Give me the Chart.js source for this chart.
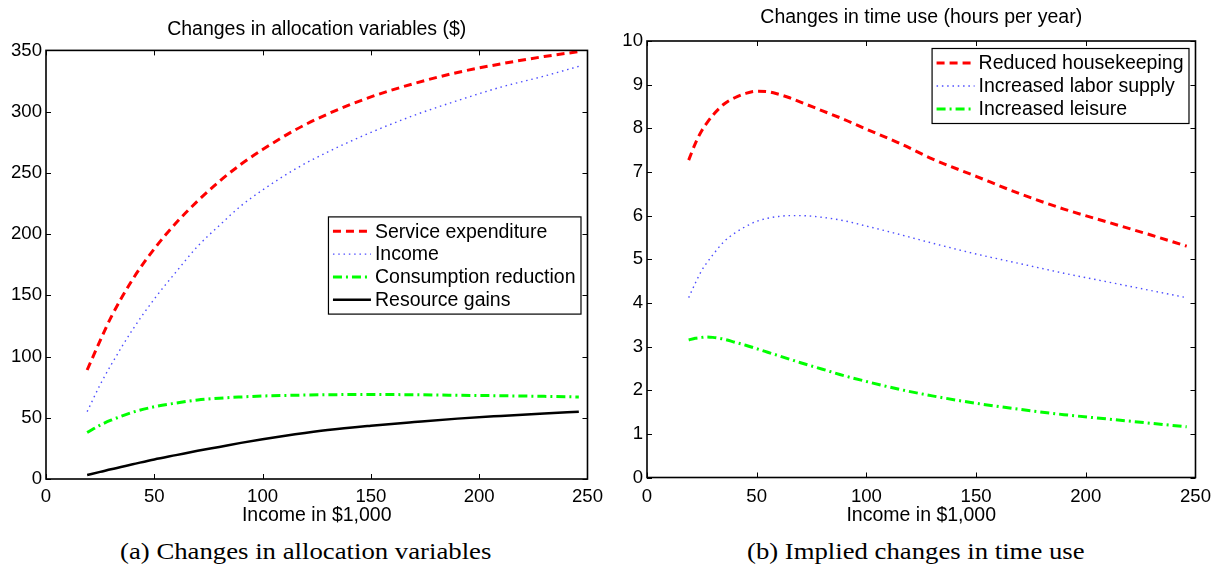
<!DOCTYPE html>
<html><head><meta charset="utf-8">
<script src="https://cdn.jsdelivr.net/npm/chart.js@4/dist/chart.umd.min.js"></script>
<style>
html,body{margin:0;padding:0;background:#fff;width:1219px;height:565px;overflow:hidden;}
.wrap{position:absolute;top:0;height:530px;}
#wa{left:0;width:610px;}
#wb{left:610px;width:609px;}
.cap{position:absolute;top:540px;font-family:'Liberation Serif','Times New Roman',serif;font-size:23px;line-height:23px;white-space:nowrap;color:#000;transform-origin:0 0;}
</style></head>
<body>
<div class="wrap" id="wa"><canvas id="ca"></canvas></div>
<div class="wrap" id="wb"><canvas id="cb"></canvas></div>
<div class="cap" id="capa" data-left="120" data-w="371">(a) Changes in allocation variables</div>
<div class="cap" id="capb" data-left="747" data-w="338">(b) Implied changes in time use</div>
<script>
// ---------- data (left panel) ----------
const incomeA = [19,25,30,40,50,60,70,80,90,100,115,130,150,170,190,210,230,246];
const serviceExpenditure = [89,113,132,163,188,209,227,243,257,269,285,298,312,323,332,339,345,349];
const incomeChange      = [55,77,93,122,147,169,190,207,223,236,253,267,283,297,309,320,329,337];
const consumptionReduction = [38,44,48,54.5,59,62,64.5,66,67,67.8,68.4,68.8,69,68.8,68.4,68,67.5,67];
const resourceGains     = [3.3,5.8,8,12,16,19.5,23,26.2,29.5,32.5,36.5,40,43.5,46.5,49.3,51.5,53.5,55];
const yTicksA = [0,50,100,150,200,250,300,350];

// ---------- data (right panel) ----------
const incomeB = [19,22,25,27,30,35,40,45,50,55,60,65,70,80,90,100,115,130,150,170,190,210,230,246];
const reducedHousekeeping = [7.27,7.65,7.95,8.1,8.3,8.55,8.7,8.8,8.85,8.84,8.78,8.7,8.6,8.4,8.2,7.98,7.66,7.3,6.9,6.5,6.15,5.85,5.55,5.3];
const increasedLabor      = [4.12,4.45,4.75,4.9,5.1,5.4,5.6,5.75,5.87,5.94,5.98,6.0,6.0,5.96,5.88,5.76,5.57,5.37,5.12,4.9,4.68,4.48,4.28,4.12];
const increasedLeisure    = [3.15,3.19,3.21,3.22,3.21,3.17,3.1,3.03,2.95,2.87,2.79,2.71,2.63,2.48,2.33,2.2,2.02,1.87,1.7,1.56,1.44,1.34,1.24,1.16];
const yTicksB = [0,1,2,3,4,5,6,7,8,9,10];
const xTicks = [0,50,100,150,200,250];

const FONT = "'Liberation Sans', Arial, Helvetica, sans-serif";
Chart.defaults.font.family = FONT;
Chart.defaults.color = '#000';

const pts = (xs, ys) => xs.map((x,i)=>({x, y: ys[i]}));

const STY = {
  red:   {borderColor:'#ff0000', borderWidth:3,   borderDash:[8,5]},
  blue:  {borderColor:'#4d4dff', borderWidth:1.4, borderDash:[1.5,3.8]},
  green: {borderColor:'#00ff00', borderWidth:3,   borderDash:[9,4,2,4]},
  black: {borderColor:'#000000', borderWidth:2.5, borderDash:[]}
};
function ds(label, xs, ys, s){
  return Object.assign({label, data: pts(xs,ys), pointRadius:0, fill:false,
    cubicInterpolationMode:'monotone', borderCapStyle:'butt'}, s);
}

const frameTicks = {
  id:'frameTicks',
  afterDatasetsDraw(chart){
    const {ctx, chartArea:a, scales:{x,y}} = chart;
    ctx.save();
    ctx.setLineDash([]);
    ctx.strokeStyle='#000'; ctx.lineWidth=1;
    ctx.beginPath();
    x.ticks.forEach(t=>{const p=Math.round(x.getPixelForValue(t.value))+0.5;
      ctx.moveTo(p,a.bottom); ctx.lineTo(p,a.bottom-5); ctx.moveTo(p,a.top); ctx.lineTo(p,a.top+5);});
    y.ticks.forEach(t=>{const p=Math.round(y.getPixelForValue(t.value))+0.5;
      ctx.moveTo(a.left,p); ctx.lineTo(a.left+5,p); ctx.moveTo(a.right,p); ctx.lineTo(a.right-5,p);});
    ctx.stroke();
    ctx.lineWidth=1.6;
    ctx.strokeRect(a.left,a.top,a.right-a.left,a.bottom-a.top);
    ctx.restore();
  }
};

const innerLegend = {
  id:'innerLegend',
  afterDraw(chart, args, opts){
    const {ctx, chartArea:a} = chart;
    const dsets = chart.data.datasets;
    ctx.save();
    ctx.font = opts.fontSize + 'px ' + FONT;
    const tw = Math.max(...dsets.map(d=>ctx.measureText(d.label).width));
    const rowH = opts.rowH, w = 47 + tw + 5, h = dsets.length*rowH + 6;
    const L = a.right - opts.right - w, T = a.top + opts.top;
    ctx.fillStyle='#fff'; ctx.fillRect(L,T,w,h);
    ctx.setLineDash([]); ctx.strokeStyle='#000'; ctx.lineWidth=1.2;
    ctx.strokeRect(L+0.5,T+0.5,w,h);
    ctx.textBaseline='middle'; ctx.textAlign='left';
    dsets.forEach((d,i)=>{
      const cy = T + 3.5 + rowH*(i+0.5);
      ctx.beginPath(); ctx.setLineDash(d.borderDash||[]);
      ctx.strokeStyle=d.borderColor; ctx.lineWidth=d.borderWidth; ctx.lineCap='butt';
      ctx.moveTo(L+5,cy); ctx.lineTo(L+43,cy); ctx.stroke();
      ctx.setLineDash([]); ctx.fillStyle='#000';
      ctx.fillText(d.label, L+47, cy+1);
    });
    ctx.restore();
  }
};

function makeChart(id, datasets, yMax, yStep, title, titlePad, xH, yW, padRight, xPad, legendPos){
  return new Chart(document.getElementById(id), {
    type:'line',
    data:{datasets},
    plugins:[frameTicks, innerLegend],
    options:{
      responsive:true, maintainAspectRatio:false, animation:false,
      layout:{padding:{left:0,right:padRight,top:0,bottom:0}},
      plugins:{
        legend:{display:false}, tooltip:{enabled:false},
        title:{display:true, text:title, fullSize:false, color:'#000',
          font:{size:19.5, weight:'normal', family:FONT}, padding:titlePad},
        innerLegend:legendPos
      },
      scales:{
        x:{type:'linear', min:0, max:250,
          afterBuildTicks(s){ s.ticks = xTicks.map(v=>({value:v})); },
          ticks:{padding:xPad, maxRotation:0, autoSkip:false, font:{size:18.6}, color:'#000'},
          grid:{display:false, drawTicks:false}, border:{display:false},
          title:{display:true, text:'Income in $1,000', color:'#000', font:{size:19.5}, padding:{top:0,bottom:3}},
          afterFit(s){ s.height = xH; }
        },
        y:{type:'linear', min:0, max:yMax,
          ticks:{stepSize:yStep, padding:4, autoSkip:false, font:{size:18.6}, color:'#000'},
          grid:{display:false, drawTicks:false}, border:{display:false},
          afterFit(s){ s.width = yW; }
        }
      }
    }
  });
}

makeChart('ca', [
  ds('Service expenditure', incomeA, serviceExpenditure, STY.red),
  ds('Income', incomeA, incomeChange, STY.blue),
  ds('Consumption reduction', incomeA, consumptionReduction, STY.green),
  ds('Resource gains', incomeA, resourceGains, STY.black)
], yTicksA[yTicksA.length-1], 50, 'Changes in allocation variables ($)', {top:18,bottom:9}, 51, 46, 19, 7,
  {right:7, top:166, fontSize:19.5, rowH:22.8});

makeChart('cb', [
  ds('Reduced housekeeping', incomeB, reducedHousekeeping, STY.red),
  ds('Increased labor supply', incomeB, increasedLabor, STY.blue),
  ds('Increased leisure', incomeB, increasedLeisure, STY.green)
], yTicksB[yTicksB.length-1], 1, 'Changes in time use (hours per year)', {top:6,bottom:11.6}, 52.5, 37, 17, 8,
  {right:7, top:7, fontSize:19.5, rowH:23});

document.querySelectorAll('.cap').forEach(el=>{
  const w = el.scrollWidth, tw = +el.dataset.w;
  el.style.left = el.dataset.left + 'px';
  el.style.transform = 'scaleX(' + (tw/w) + ')';
});
</script>
</body></html>
